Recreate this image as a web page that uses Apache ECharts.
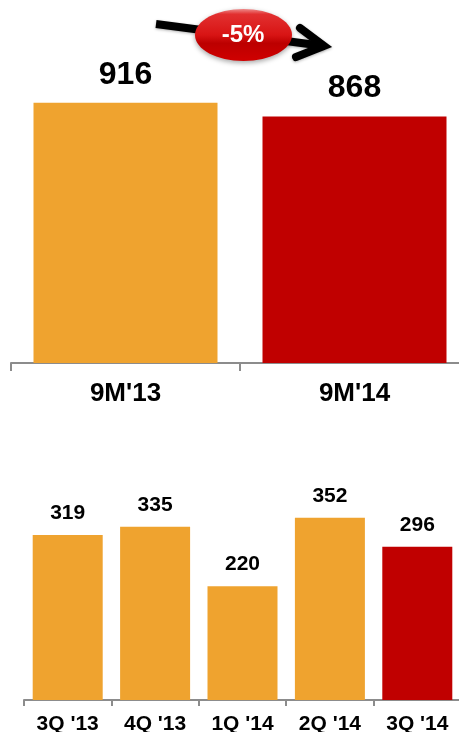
<!DOCTYPE html>
<html>
<head>
<meta charset="utf-8">
<style>html,body{margin:0;padding:0;background:#fff;overflow:hidden}#c{width:459px;height:732px}</style>
<script src="https://cdn.jsdelivr.net/npm/echarts@6/dist/echarts.min.js"></script>
</head>
<body>
<div id="c"></div>
<script>
const ORANGE = '#EFA32F';
const RED = '#C00000';

const periodLabels = ["9M'13", "9M'14"];
const periodValues = [916, 868];
const periodColors = [ORANGE, RED];

const quarterLabels = ["3Q '13", "4Q '13", "1Q '14", "2Q '14", "3Q '14"];
const quarterValues = [319, 335, 220, 352, 296];
const quarterColors = [ORANGE, ORANGE, ORANGE, ORANGE, RED];

const font = '"Liberation Sans", Arial, sans-serif';
const chart = echarts.init(document.getElementById('c'), null, { renderer: 'canvas' });

function paint(values, colors) {
  return values.map((v, i) => ({ value: v, itemStyle: { color: colors[i] } }));
}
const axisStyle = { lineStyle: { color: '#8C8C8C', width: 2 } };

chart.setOption({
  animation: false,
  backgroundColor: '#fff',
  grid: [
    // The upper axis runs past the right edge of the page, so bounds are left unconstrained
    { left: 11, top: 79, width: 458, height: 284, outerBoundsMode: 'none' },
    { left: 24, top: 493, width: 437, height: 207, outerBoundsMode: 'none' }
  ],
  xAxis: [
    {
      type: 'category', gridIndex: 0, data: periodLabels,
      axisLine: axisStyle,
      axisTick: { show: true, length: 8, lineStyle: { color: '#8C8C8C', width: 2 } },
      axisLabel: { color: '#000', fontFamily: font, fontWeight: 'bold', fontSize: 26, margin: 18 }
    },
    {
      type: 'category', gridIndex: 1, data: quarterLabels,
      axisLine: axisStyle,
      axisTick: { show: true, length: 6, lineStyle: { color: '#8C8C8C', width: 2 } },
      axisLabel: { color: '#000', fontFamily: font, fontWeight: 'bold', fontSize: 21, margin: 14 }
    }
  ],
  yAxis: [
    { type: 'value', gridIndex: 0, min: 0, max: 1000, show: false },
    { type: 'value', gridIndex: 1, min: 0, max: 400, show: false }
  ],
  series: [
    {
      type: 'bar', xAxisIndex: 0, yAxisIndex: 0, barWidth: 184,
      data: paint(periodValues, periodColors),
      label: { show: true, position: 'top', distance: 12, color: '#000', fontFamily: font, fontWeight: 'bold', fontSize: 32 }
    },
    {
      type: 'bar', xAxisIndex: 1, yAxisIndex: 1, barWidth: 70,
      data: paint(quarterValues, quarterColors),
      label: { show: true, position: 'top', distance: 11, color: '#000', fontFamily: font, fontWeight: 'bold', fontSize: 21 }
    }
  ],
  graphic: [
    // Trend arrow behind the percentage badge
    {
      type: 'polyline', z: 10,
      shape: { points: [[156, 24], [324, 46]] },
      style: { stroke: '#000', lineWidth: 8, fill: null, shadowBlur: 3, shadowColor: 'rgba(0,0,0,0.3)', shadowOffsetY: 1 }
    },
    {
      type: 'polyline', z: 10,
      shape: { points: [[300, 28], [324, 46], [296, 57]] },
      style: { stroke: '#000', lineWidth: 8, fill: null, lineCap: 'round', lineJoin: 'miter', shadowBlur: 3, shadowColor: 'rgba(0,0,0,0.3)', shadowOffsetY: 1 }
    },
    // Red glossy badge
    {
      type: 'ellipse', z: 11,
      shape: { cx: 243.5, cy: 35, rx: 48.5, ry: 26 },
      style: {
        fill: new echarts.graphic.LinearGradient(0, 0, 0, 1, [
          { offset: 0, color: '#EE8A8A' },
          { offset: 0.1, color: '#E23030' },
          { offset: 0.5, color: '#D81414' },
          { offset: 0.66, color: '#BC0000' },
          { offset: 1, color: '#D00000' }
        ]),
        shadowBlur: 5, shadowColor: 'rgba(0,0,0,0.35)', shadowOffsetY: 2
      }
    },
    {
      type: 'text', z: 12, x: 243, y: 35,
      style: { text: '-5%', fill: '#fff', font: 'bold 24px ' + font, align: 'center', verticalAlign: 'middle', shadowBlur: 2, shadowColor: 'rgba(0,0,0,0.3)' }
    }
  ]
});
</script>
</body>
</html>
